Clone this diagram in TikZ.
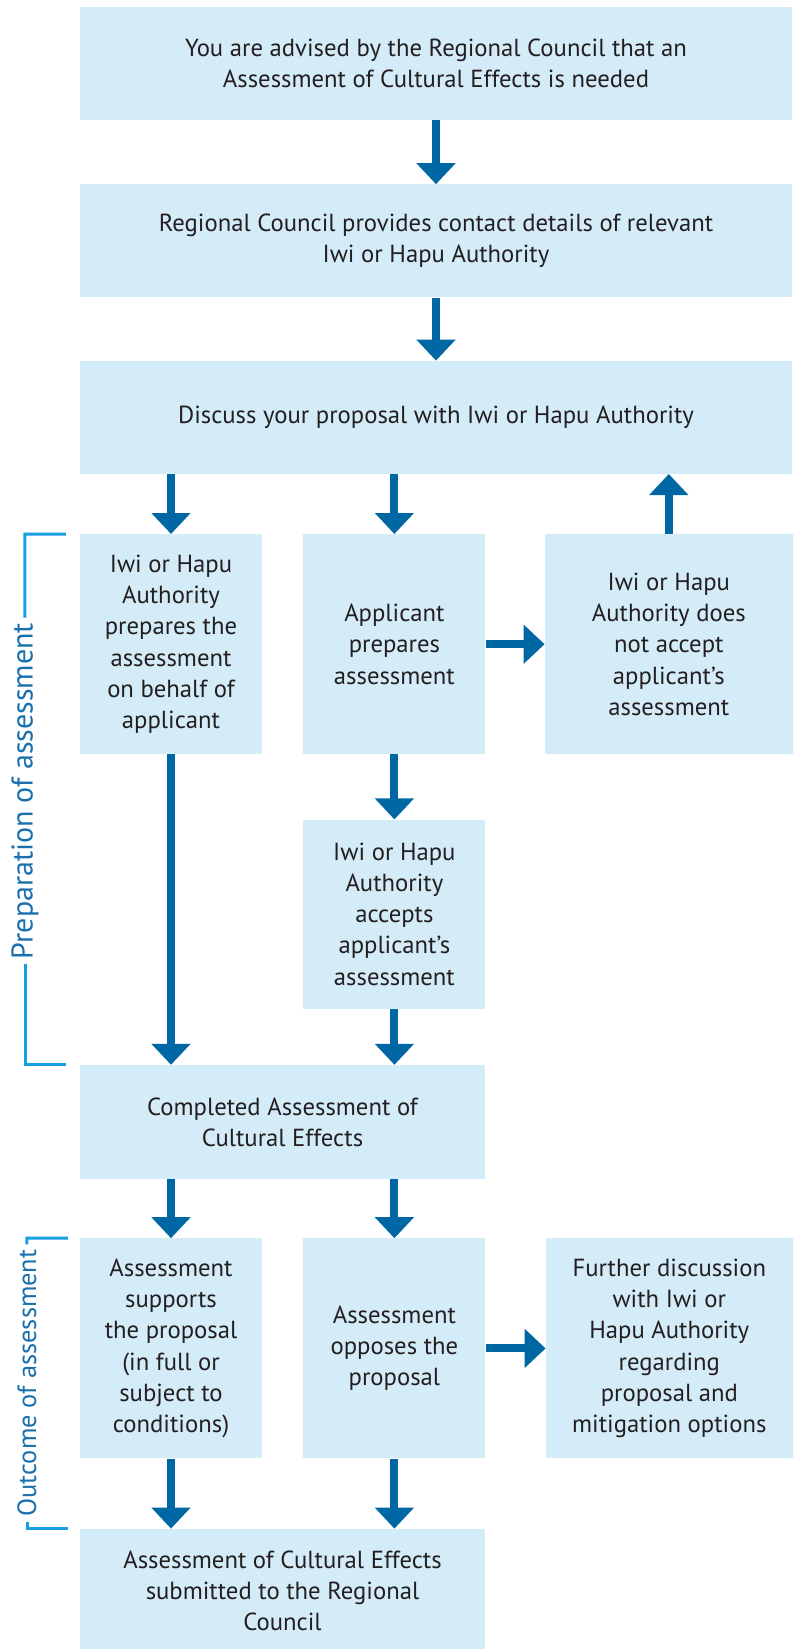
\documentclass[tikz,border=0pt]{standalone}
\usepackage{fontspec}
\setmainfont{PT Sans}
\usetikzlibrary{positioning,arrows.meta}
\definecolor{boxblue}{HTML}{D4EBF8}
\definecolor{arrowblue}{HTML}{0067A5}
\definecolor{linecyan}{HTML}{16A0E0}
\definecolor{labelblue}{HTML}{1A70AE}
\definecolor{textgrey}{HTML}{231F20}
\tikzstyle{box} = [fill=boxblue, rectangle, text=textgrey, align=center,
    inner sep=0pt, font=\fontsize{24.7}{31.2}\selectfont]
\tikzstyle{wide} = [box, minimum width=712pt, minimum height=113pt]
\tikzstyle{half} = [box, minimum width=405pt, minimum height=114pt]
\tikzstyle{narrow} = [box, minimum width=182pt, minimum height=220pt]
\tikzstyle{side} = [box, minimum width=248pt, minimum height=220pt]
\tikzstyle{flow} = [draw=arrowblue, line width=8pt,
    -{Triangle[width=38pt,length=21pt]}]
\tikzstyle{bracket} = [draw=linecyan, line width=3pt]
\tikzstyle{sidelabel} = [rotate=90, text=labelblue, inner sep=5pt]

\begin{document}
\begin{tikzpicture}[x=1pt, y=-1pt]
	\useasboundingbox (0,0) rectangle (797,1649);

	% Top of the flow
	\node [wide] (advised) at (436,63.5) {You are advised by the Regional Council that an\\Assessment of Cultural Effects is needed};
	\node [wide, below=64pt of advised] (contacts) {Regional Council provides contact details of relevant\\Iwi or Hapu Authority};
	\node [wide, below=63pt of contacts] (discuss) {Discuss your proposal with Iwi or Hapu Authority};

	% Preparation of assessment
	\node [narrow, below right=60pt and 0pt of discuss.south west] (iwiprep) {Iwi or Hapu\\Authority\\prepares the\\assessment\\on behalf of\\applicant};
	\node [narrow, right=41pt of iwiprep] (appprep) {Applicant\\prepares\\assessment};
	\node [side, right=59pt of appprep] (reject) {Iwi or Hapu\\Authority does\\not accept\\applicant’s\\assessment};
	\node [narrow, minimum height=189pt, below=65pt of appprep] (accept) {Iwi or Hapu\\Authority\\accepts\\applicant’s\\assessment};

	% Completed assessment
	\coordinate (mid) at (iwiprep.west |- accept.south);
	\node [half, below right=56pt and 0pt of mid] (completed) {Completed Assessment of\\Cultural Effects};

	% Outcome of assessment
	\node [narrow, below right=59pt and 0pt of completed.south west] (supports) {Assessment\\supports\\the proposal\\(in full or\\subject to\\conditions)};
	\node [narrow, right=41pt of supports] (opposes) {Assessment\\opposes the\\proposal};
	\node [side, minimum width=247pt, right=60pt of opposes] (further) {Further discussion\\with Iwi or\\Hapu Authority\\regarding\\proposal and\\mitigation options};
	\node [half, minimum height=124pt, below right=70pt and 0pt of supports.south west] (submitted) {Assessment of Cultural Effects\\submitted to the Regional\\Council};

	% Connectors
	\draw [flow] (advised) -- (contacts);
	\draw [flow] (contacts) -- (discuss);
	\draw [flow] (discuss.south -| iwiprep.north) -- (iwiprep.north);
	\draw [flow] (discuss.south -| appprep.north) -- (appprep.north);
	\draw [flow] (reject.north) -- (discuss.south -| reject.north);
	\draw [flow] (appprep.east) -- (reject.west);
	\draw [flow] (appprep) -- (accept);
	\draw [flow] (iwiprep.south) -- (iwiprep.south |- completed.north);
	\draw [flow] (accept.south) -- (accept.south |- completed.north);
	\draw [flow] (completed.south -| supports.north) -- (supports.north);
	\draw [flow] (completed.south -| opposes.north) -- (opposes.north);
	\draw [flow] (opposes.east) -- (further.west);
	\draw [flow] (supports.south) -- (supports.south |- submitted.north);
	\draw [flow] (opposes.south) -- (opposes.south |- submitted.north);

	% Side brackets
	\node [sidelabel, font=\fontsize{30}{34}\selectfont] (prep) at (25,791) {Preparation of assessment};
	\draw [bracket] (iwiprep.north west) ++(-14,0) -- ++(-41,0) -- (prep.east);
	\draw [bracket] (prep.west) -- (prep.west |- completed.north) -- ++(41,0);
	\node [sidelabel, font=\fontsize{26.4}{30}\selectfont] (outcome) at (27,1383) {Outcome of assessment};
	\draw [bracket] (supports.north west) ++(-12,0) -- ++(-41,0) -- (outcome.east);
	\draw [bracket] (outcome.west) -- (outcome.west |- submitted.north) -- ++(41,0);
\end{tikzpicture}
\end{document}
